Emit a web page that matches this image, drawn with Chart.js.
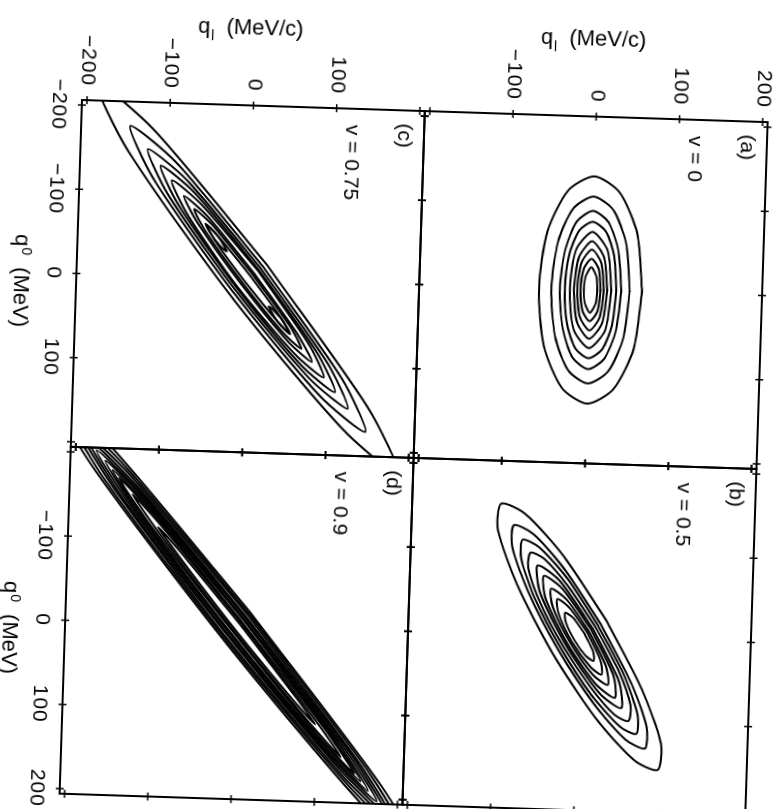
<!DOCTYPE html>
<html>
<head>
<meta charset="utf-8">
<title>Contours in the (q0, ql) plane</title>
<script src="https://cdn.jsdelivr.net/npm/chart.js@4.4.1/dist/chart.umd.min.js"></script>
<style>
  html, body { margin: 0; padding: 0; background: #fff; overflow: hidden; }
  body { width: 773px; height: 809px; position: relative; }
  /* the figure is drawn upright and then turned a quarter (plus the scan tilt) */
  #figure {
    position: absolute; left: 0; top: 0; width: 809px; height: 773px;
    transform-origin: 0 0;
    transform: translate(82px, 100px) rotate(1.85deg) translate(-82px, -100px) translate(773px, 0) rotate(90deg);
  }
  #figure canvas { position: absolute; left: 0; top: 0; }
</style>
</head>
<body>
<div id="figure">
  <canvas id="panelA" width="809" height="773"></canvas>
  <canvas id="panelB" width="809" height="773"></canvas>
  <canvas id="panelC" width="809" height="773"></canvas>
  <canvas id="panelD" width="809" height="773"></canvas>
</div>
<script>
const axisRange = [-206, 206];
const tickValues = [-200, -100, 0, 100, 200];
const panelTags = ['(a)', '(b)', '(c)', '(d)'];
const velocities = ['0', '0.5', '0.75', '0.9'];

// contour lines, vertices as [q0 (MeV), ql (MeV/c)], outermost first
const contoursA = [
  [[0,62],[68,54],[117,31],[135,0],[117,-31],[68,-54],[0,-62],[-68,-54],[-117,-31],[-135,0],[-117,31],[-68,54],[0,62]],
  [[0,47],[56,41],[96,24],[111,0],[96,-24],[56,-41],[0,-47],[-56,-41],[-96,-24],[-111,0],[-96,24],[-56,41],[0,47]],
  [[0,37],[47,32],[81,19],[94,0],[81,-19],[47,-32],[0,-37],[-47,-32],[-81,-19],[-94,0],[-81,19],[-47,32],[0,37]],
  [[0,31],[41,27],[70,16],[81,0],[70,-16],[41,-27],[0,-31],[-41,-27],[-70,-16],[-81,0],[-70,16],[-41,27],[0,31]],
  [[0,25],[47,19],[69,0],[47,-19],[0,-25],[-47,-19],[-69,0],[-47,19],[0,25]],
  [[0,20],[39,15],[58,0],[39,-15],[0,-20],[-39,-15],[-58,0],[-39,15],[0,20]],
  [[0,16],[32,12],[48,0],[32,-12],[0,-16],[-32,-12],[-48,0],[-32,12],[0,16]],
  [[0,12],[25,9],[37,0],[25,-9],[0,-12],[-25,-9],[-37,0],[-25,9],[0,12]],
  [[0,8],[16,6.5],[27,0],[16,-6.5],[0,-8],[-16,-6.5],[-27,0],[-16,6.5],[0,8]]
];

const contoursB = [
  [[-20,32],[60,77],[124,102],[155,99],[144,70],[95,22],[20,-32],[-60,-77],[-124,-102],[-155,-99],[-144,-70],[-95,-22],[-20,32]],
  [[-16,25],[51,63],[104,84],[130,83],[120,59],[79,20],[16,-25],[-51,-63],[-104,-84],[-130,-83],[-120,-59],[-79,-20],[-16,25]],
  [[-14,22],[44,55],[91,73],[113,72],[105,52],[69,17],[14,-22],[-44,-55],[-91,-73],[-113,-72],[-105,-52],[-69,-17],[-14,22]],
  [[-12,19],[38,48],[79,64],[98,62],[91,45],[59,15],[12,-19],[-38,-48],[-79,-64],[-98,-62],[-91,-45],[-59,-15],[-12,19]],
  [[-10,16],[51,49],[83,53],[66,26],[10,-16],[-51,-49],[-83,-53],[-66,-26],[-10,16]],
  [[-9,14],[44,42],[71,45],[56,22],[9,-14],[-44,-42],[-71,-45],[-56,-22],[-9,14]],
  [[-7,11],[34,33],[56,36],[44,17],[7,-11],[-34,-33],[-56,-36],[-44,-17],[-7,11]],
  [[-6,9],[27,26],[44,28],[35,14],[6,-9],[-27,-26],[-44,-28],[-35,-14],[-6,9]],
  [[-4,6],[17,17],[28,18],[22,8],[4,-6],[-17,-17],[-28,-18],[-22,-8],[-4,6]]
];

const contoursC = [
  [[-18,22],[148,149],[227,189],[173,118],[18,-22],[-148,-149],[-227,-189],[-173,-118],[-18,22]],
  [[-15,18],[115,117],[177,147],[136,91],[15,-18],[-115,-117],[-177,-147],[-136,-91],[-15,18]],
  [[-13,15],[97,99],[150,125],[115,77],[13,-15],[-97,-99],[-150,-125],[-115,-77],[-13,15]],
  [[-11,13],[85,86],[131,109],[100,67],[11,-13],[-85,-86],[-131,-109],[-100,-67],[-11,13]],
  [[-10,12],[74,75],[114,95],[87,59],[10,-12],[-74,-75],[-114,-95],[-87,-59],[-10,12]],
  [[-6,8],[64,62],[96,80],[73,51],[6,-8],[-64,-62],[-96,-80],[-73,-51],[-6,8]],
  [[-5,6],[54,52],[81,67],[61,43],[5,-6],[-54,-52],[-81,-67],[-61,-43],[-5,6]],
  [[-3,3.5],[43,40],[64,53],[47,35],[3,-3.5],[-43,-40],[-64,-53],[-47,-35],[-3,3.5]],
  [[45,41],[57,49],[62,52],[59,47],[49,37],[37,29],[32,26],[35,31],[45,41]],
  [[-45,-41],[-57,-49],[-62,-52],[-59,-47],[-49,-37],[-37,-29],[-32,-26],[-35,-31],[-45,-41]]
];

const contoursD = [
  [[-15,17],[182,178],[273,235],[204,154],[15,-17],[-182,-178],[-273,-235],[-204,-154],[-15,17]],
  [[-13,16],[167,163],[250,215],[186,141],[13,-16],[-167,-163],[-250,-215],[-186,-141],[-13,16]],
  [[-12,14],[155,150],[231,199],[172,131],[12,-14],[-155,-150],[-231,-199],[-172,-131],[-12,14]],
  [[-10,12],[145,140],[216,186],[160,123],[10,-12],[-145,-140],[-216,-186],[-160,-123],[-10,12]],
  [[-9,11],[137,131],[203,175],[150,116],[9,-11],[-137,-131],[-203,-175],[-150,-116],[-9,11]],
  [[-8,9],[130,123],[191,164],[141,110],[8,-9],[-130,-123],[-191,-164],[-141,-110],[-8,9]],
  [[-7,8],[123,115],[180,155],[132,104],[7,-8],[-123,-115],[-180,-155],[-132,-104],[-7,8]],
  [[-5,6],[117,108],[171,147],[124,99],[5,-6],[-117,-108],[-171,-147],[-124,-99],[-5,6]],
  [[-4,5],[105,95],[152,130],[110,89],[4,-5],[-105,-95],[-152,-130],[-110,-89],[-4,5]],
  [[-3,3],[79,71],[114,98],[82,67],[3,-3],[-79,-71],[-114,-98],[-82,-67],[-3,3]]
];

const FONT = "'Liberation Sans', Arial, Helvetica, sans-serif";
const FIG_W = 809;
const FIG_H = 773;

const q0Title = [
  { text: 'q', size: 22 },
  { text: '0', size: 14, dy: -7, gap: 1 },
  { text: '(MeV)', size: 22, gap: 12 }
];
const qlTitle = [
  { text: 'q', size: 22 },
  { text: 'l', size: 14, dy: 7, gap: 1 },
  { text: '(MeV/c)', size: 22, gap: 12 }
];

// panel boxes in the upright figure (pixels)
const panels = [
  { id: 'panelA', contours: contoursA, tag: panelTags[0], speed: velocities[0],
    box: { left: 100, top: 5, right: 447, bottom: 348 },
    xLabels: null, yLabels: tickValues.filter(v => v > -200) },
  { id: 'panelB', contours: contoursB, tag: panelTags[1], speed: velocities[1],
    box: { left: 447, top: 5, right: 794, bottom: 348 },
    xLabels: null, yLabels: null },
  { id: 'panelC', contours: contoursC, tag: panelTags[2], speed: velocities[2],
    box: { left: 100, top: 348, right: 447, bottom: 691 },
    xLabels: tickValues.filter(v => v < 200), yLabels: tickValues.filter(v => v < 200) },
  { id: 'panelD', contours: contoursD, tag: panelTags[3], speed: velocities[3],
    box: { left: 447, top: 348, right: 794, bottom: 691 },
    xLabels: tickValues.filter(v => v > -200), yLabels: null }
];

function drawRich(ctx, parts, cx, cy, angle) {
  let total = 0;
  parts.forEach(p => {
    ctx.font = p.size + 'px ' + FONT;
    p.w = ctx.measureText(p.text).width;
    total += (p.gap || 0) + p.w;
  });
  ctx.save();
  ctx.translate(cx, cy);
  ctx.rotate(angle);
  ctx.textAlign = 'left';
  ctx.textBaseline = 'alphabetic';
  let x = -total / 2;
  parts.forEach(p => {
    x += p.gap || 0;
    ctx.font = p.size + 'px ' + FONT;
    ctx.fillText(p.text, x, p.dy || 0);
    x += p.w;
  });
  ctx.restore();
}

function makeFrame(panel) {
  return {
    id: 'frame',
    beforeDraw(chart) {
      chart.ctx.letterSpacing = '1px';
    },
    afterDraw(chart) {
      const { ctx, chartArea: a, scales: { x, y } } = chart;
      ctx.save();
      ctx.letterSpacing = '0px';
      ctx.strokeStyle = '#000';
      ctx.lineWidth = 2;
      ctx.strokeRect(a.left, a.top, a.right - a.left, a.bottom - a.top);

      ctx.lineWidth = 1.5;
      ctx.beginPath();
      tickValues.forEach(v => {
        const px = x.getPixelForValue(v);
        const py = y.getPixelForValue(v);
        ctx.moveTo(px, a.top - 4); ctx.lineTo(px, a.top + 4);
        ctx.moveTo(px, a.bottom - 4); ctx.lineTo(px, a.bottom + 4);
        ctx.moveTo(a.left - 4, py); ctx.lineTo(a.left + 4, py);
        ctx.moveTo(a.right - 4, py); ctx.lineTo(a.right + 4, py);
      });
      ctx.stroke();

      ctx.fillStyle = '#000';
      ctx.textAlign = 'left';
      ctx.textBaseline = 'middle';
      ctx.font = '21px ' + FONT;
      ctx.fillText(panel.tag, a.left + 13, a.top + 20);
      ctx.fillText('v = ' + panel.speed, a.left + 16, a.top + 72);

      if (panel.xLabels) drawRich(ctx, q0Title, (a.left + a.right) / 2 + 9, 753, 0);
      if (panel.yLabels) drawRich(ctx, qlTitle, 29, (a.top + a.bottom) / 2 + 5, -Math.PI / 2);
      ctx.restore();
    }
  };
}

function makeScale(panel, isX) {
  const labels = isX ? panel.xLabels : panel.yLabels;
  return {
    type: 'linear',
    position: isX ? 'bottom' : 'left',
    min: axisRange[0],
    max: axisRange[1],
    display: !!labels,
    grid: { display: false, drawTicks: false },
    border: { display: false },
    ticks: {
      font: { family: FONT, size: 21 },
      color: '#000',
      padding: isX ? 11 : 14,
      autoSkip: false,
      maxRotation: 0,
      minRotation: 0,
      callback: v => (v < 0 ? '\u2212' + Math.abs(v) : String(v))
    },
    afterBuildTicks: scale => {
      if (labels) scale.ticks = labels.map(v => ({ value: v }));
    },
    afterFit: scale => {
      if (!labels) return;
      if (isX) scale.height = FIG_H - panel.box.bottom;
      else scale.width = panel.box.left;
      scale.paddingLeft = scale.paddingRight = scale.paddingTop = scale.paddingBottom = 0;
    }
  };
}

panels.forEach(panel => {
  const b = panel.box;
  new Chart(document.getElementById(panel.id), {
    type: 'scatter',
    data: {
      datasets: panel.contours.map(line => ({
        data: line.map(([q0, ql]) => ({ x: q0, y: ql })),
        showLine: true,
        borderColor: '#000',
        borderWidth: 2,
        pointRadius: 0,
        tension: 0.25,
        fill: false,
        borderJoinStyle: 'round',
        borderCapStyle: 'round'
      }))
    },
    options: {
      responsive: false,
      animation: false,
      devicePixelRatio: 1,
      events: [],
      elements: { line: { capBezierPoints: false } },
      layout: {
        padding: {
          left: panel.yLabels ? 0 : b.left,
          top: b.top,
          right: FIG_W - b.right,
          bottom: panel.xLabels ? 0 : FIG_H - b.bottom
        }
      },
      plugins: { legend: { display: false }, tooltip: { enabled: false } },
      scales: { x: makeScale(panel, true), y: makeScale(panel, false) }
    },
    plugins: [makeFrame(panel)]
  });
});
</script>
</body>
</html>
